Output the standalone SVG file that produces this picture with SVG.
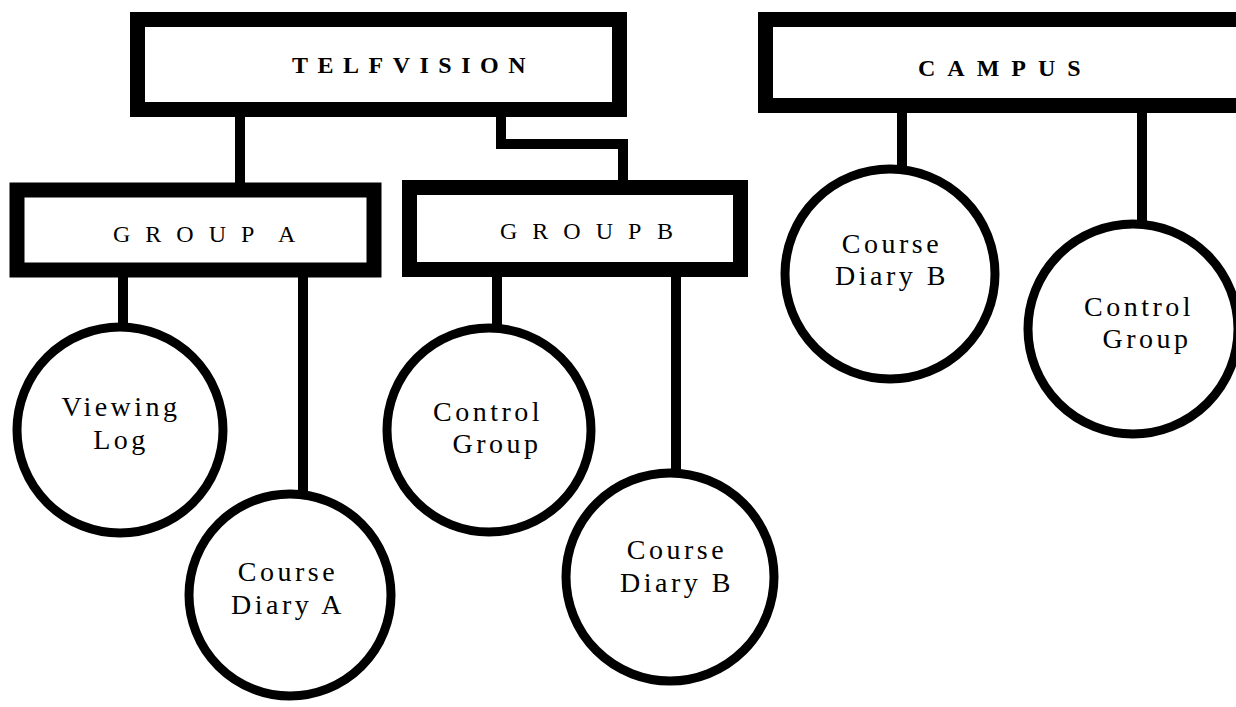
<svg xmlns="http://www.w3.org/2000/svg" width="1236" height="707" viewBox="0 0 1236 707">
<style>
.box{fill:#fff;stroke:#000;stroke-width:15}
.circ{fill:#fff;stroke:#000;stroke-width:9}
.conn{fill:none;stroke:#000;stroke-width:10;stroke-linejoin:miter}
.hdr{font-family:"Liberation Serif",serif;font-weight:bold;font-size:24px;fill:#000}
.grp{font-family:"Liberation Serif",serif;font-size:24px;fill:#000;letter-spacing:15px}
.lbl{font-family:"Liberation Serif",serif;font-size:28px;fill:#000;letter-spacing:3.5px;text-anchor:middle}
</style>
<rect width="1236" height="707" fill="#fff"/>
<g id="connectors">
<path class="conn" d="M240 115 V184"/>
<path class="conn" d="M501 115 V144 H623 V182"/>
<path class="conn" d="M123 270 V325"/>
<path class="conn" d="M303 270 V492"/>
<path class="conn" d="M497 270 V327"/>
<path class="conn" d="M676 270 V469"/>
<path class="conn" d="M902 110 V167"/>
<path class="conn" d="M1142 110 V222"/>
</g>
<g id="television">
<rect class="box" x="137.5" y="19.5" width="482" height="90"/>
<text class="hdr" x="292" y="73" letter-spacing="9.5">TELFVISION</text>
</g>
<g id="campus">
<rect class="box" x="765.5" y="19.5" width="480" height="86"/>
<text class="hdr" x="918" y="76" letter-spacing="12">CAMPUS</text>
</g>
<g id="groupA">
<rect class="box" x="17" y="190" width="357" height="80"/>
<text class="grp" x="113" y="242">GROUP<tspan x="278">A</tspan></text>
</g>
<g id="groupB">
<rect class="box" x="409.5" y="187.5" width="331" height="82"/>
<text class="grp" x="500" y="239">GROUP<tspan x="657">B</tspan></text>
</g>
<g id="viewingLog">
<circle class="circ" cx="120" cy="430" r="103"/>
<text class="lbl" x="121" y="416">Viewing</text>
<text class="lbl" x="121" y="449">Log</text>
</g>
<g id="courseDiaryA">
<circle class="circ" cx="290" cy="595" r="101"/>
<text class="lbl" x="288" y="581">Course</text>
<text class="lbl" x="288" y="614">Diary A</text>
</g>
<g id="controlGroupB">
<circle class="circ" cx="489" cy="430" r="102"/>
<text class="lbl" x="488" y="421">Control</text>
<text class="lbl" x="497" y="453">Group</text>
</g>
<g id="courseDiaryB">
<circle class="circ" cx="670" cy="577" r="104"/>
<text class="lbl" x="677" y="559">Course</text>
<text class="lbl" x="677" y="592">Diary B</text>
</g>
<g id="campusCourseDiaryB">
<circle class="circ" cx="890" cy="274" r="105"/>
<text class="lbl" x="892" y="253">Course</text>
<text class="lbl" x="892" y="285">Diary B</text>
</g>
<g id="campusControlGroup">
<circle class="circ" cx="1133" cy="329" r="105"/>
<text class="lbl" x="1139" y="316">Control</text>
<text class="lbl" x="1147" y="348">Group</text>
</g>
</svg>
